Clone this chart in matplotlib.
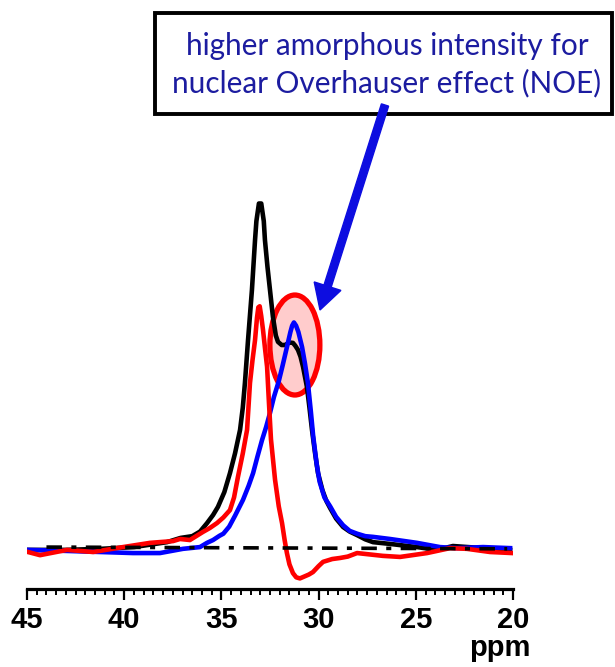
import matplotlib
matplotlib.use("Agg")
import matplotlib.pyplot as plt
from matplotlib.patches import Ellipse, Rectangle, FancyArrow

# spectra: chemical shift (ppm) and intensity (black peak = 100)
black_ppm = [44.95, 43.0, 41.2, 39.5, 37.8, 37.1, 36.5, 36.1, 35.74, 35.43, 35.18, 34.85,
             34.56, 34.30, 34.04, 33.90, 33.79, 33.63, 33.43, 33.27, 33.20, 33.07, 32.95,
             32.82, 32.76, 32.63, 32.50, 32.35, 32.20, 32.09, 31.90, 31.73, 31.50, 31.32,
             31.20, 31.06, 30.93, 30.80, 30.60, 30.47, 30.34, 30.18, 30.03, 29.80, 29.60,
             29.41, 29.10, 28.74, 28.40, 28.02, 27.60, 27.20, 26.33, 24.94, 23.91, 23.09,
             21.54, 20.15]
black_int = [0.6, 0.6, 0.9, 1.4, 2.8, 4.0, 4.5, 5.8, 8.2, 10.5, 12.8, 17.0,
             22.4, 28.0, 34.7, 41.0, 48.0, 60.2, 74.4, 88.6, 94.0, 99.0, 99.0,
             94.0, 88.6, 81.0, 74.4, 66.8, 61.5, 59.7, 58.8, 58.8, 59.5, 59.4,
             58.6, 57.4, 55.5, 52.6, 46.9, 41.0, 34.7, 28.0, 22.4, 17.5, 14.5,
             12.5, 9.5, 7.1, 5.8, 4.8, 3.6, 2.8, 2.3, 1.4, 0.6, 1.7,
             1.1, 0.6]

blue_ppm = [44.95, 42.94, 41.24, 39.55, 38.16, 36.98, 36.10, 35.74, 35.43, 35.10, 34.90,
            34.60, 34.30, 33.89, 33.60, 33.37, 33.15, 32.91, 32.70, 32.50, 32.30, 32.05,
            31.85, 31.63, 31.45, 31.36, 31.27, 31.16, 31.04, 30.85, 30.70, 30.55, 30.40,
            30.28, 30.10, 29.95, 29.70, 29.41, 29.10, 28.74, 28.40, 28.02, 27.60, 27.20,
            26.33, 24.94, 23.76, 22.88, 21.54, 20.15]
blue_int = [0.6, 0.3, 0.0, -0.3, -0.3, 0.9, 1.4, 2.6, 3.4, 4.6, 5.2,
            7.2, 10.3, 14.8, 18.8, 22.4, 27.0, 31.8, 35.5, 39.5, 44.0, 48.5,
            53.0, 58.2, 62.5, 64.3, 65.2, 64.3, 62.5, 58.2, 53.5, 48.0, 40.0,
            33.0, 25.0, 20.0, 15.5, 13.0, 10.0, 7.6, 6.0, 5.2, 4.5, 4.3,
            3.7, 2.6, 1.4, 1.1, 1.4, 1.1]

red_ppm = [44.95, 44.33, 42.94, 41.60, 40.06, 38.67, 37.49, 37.13, 36.62, 35.95, 35.60,
           35.23, 34.90, 34.56, 34.35, 34.15, 33.90, 33.68, 33.53, 33.40, 33.27, 33.17,
           33.10, 33.03, 32.95, 32.86, 32.75, 32.65, 32.55, 32.45, 32.24, 32.05, 31.88,
           31.75, 31.63, 31.50, 31.32, 31.15, 30.96, 30.75, 30.50, 30.29, 30.00, 29.77,
           29.30, 28.90, 28.50, 28.02, 26.69, 25.81, 24.42, 23.24, 22.37, 21.18, 20.05]
red_int = [0.0, -0.9, 0.6, 0.0, 1.4, 2.6, 3.1, 3.7, 3.4, 5.7, 6.8,
           8.2, 9.8, 11.9, 15.5, 21.3, 28.0, 34.7, 48.0, 54.5, 60.2, 66.5,
           69.5, 69.8, 67.0, 63.1, 57.5, 52.6, 42.0, 32.0, 20.5, 13.0, 8.2,
           3.5, -0.3, -3.5, -6.0, -7.2, -7.5, -7.0, -6.4, -5.7, -4.0, -2.8,
           -2.0, -1.7, -1.3, -0.3, -1.1, -1.4, -0.3, 1.1, 0.9, 0.0, -0.3]

base_ppm = [44.0, 20.3]
base_int = [1.4, 0.9]

tick_major = [45, 40, 35, 30, 25, 20]
box_text = "higher amorphous intensity for\nnuclear Overhauser effect (NOE)"

W, H = 615, 667
fig = plt.figure(figsize=(W / 100, H / 100), dpi=100)
ax = fig.add_axes([27 / W, (H - 589) / H, 486 / W, 439 / H])

ax.plot(black_ppm, black_int, color="black", lw=3.3, solid_joinstyle="round")
ax.plot(blue_ppm, blue_int, color="#0000ff", lw=3.3, solid_joinstyle="round")
ax.plot(red_ppm, red_int, color="#ff0000", lw=3.3, solid_joinstyle="round")
ax.plot(base_ppm, base_int, color="black", lw=2.6, dashes=(4.3, 2.6, 1.4, 2.6))

ax.add_patch(Ellipse((31.22, 58.8), 2.57, 28.4, facecolor=(1, 0, 0, 0.2),
                     edgecolor="#ff0000", lw=3.8))

ax.set_xlim(45, 20)
ax.set_ylim(-10.51, 114.2)
for side in ("left", "right", "top"):
    ax.spines[side].set_visible(False)
ax.spines["bottom"].set_linewidth(2.3)
ax.set_yticks([])
ax.set_xticks(tick_major)
ax.set_xticks([t / 2 for t in range(40, 91)], minor=True)
ax.tick_params(axis="x", which="major", length=8, width=1.6, pad=4,
               labelsize=21)
ax.tick_params(axis="x", which="minor", length=4.3, width=1.4)
for lab in ax.get_xticklabels():
    lab.set_fontfamily("Liberation Sans")
    lab.set_fontweight("bold")

fig.text(530 / W, (H - 656) / H, "ppm", ha="right", va="baseline",
         fontsize=21, fontweight="bold", family="Liberation Sans")

# annotation box and arrow in figure space
fig.add_artist(Rectangle((155 / W, (H - 114) / H), 457 / W, 101 / H,
                         transform=fig.transFigure, facecolor="white",
                         edgecolor="black", lw=2.8))
fig.text(387 / W, (H - 65) / H, box_text, ha="center", va="center",
         fontsize=21.4, family="Lato", color="#1c1ca0", linespacing=1.36)
fig.add_artist(FancyArrow(3.85, (H - 105) / 100, -0.65, -2.05, width=0.075,
                          head_width=0.28, head_length=0.25,
                          length_includes_head=True, color="#0d0de0",
                          transform=fig.dpi_scale_trans))

fig.savefig("out.png", dpi=100)
